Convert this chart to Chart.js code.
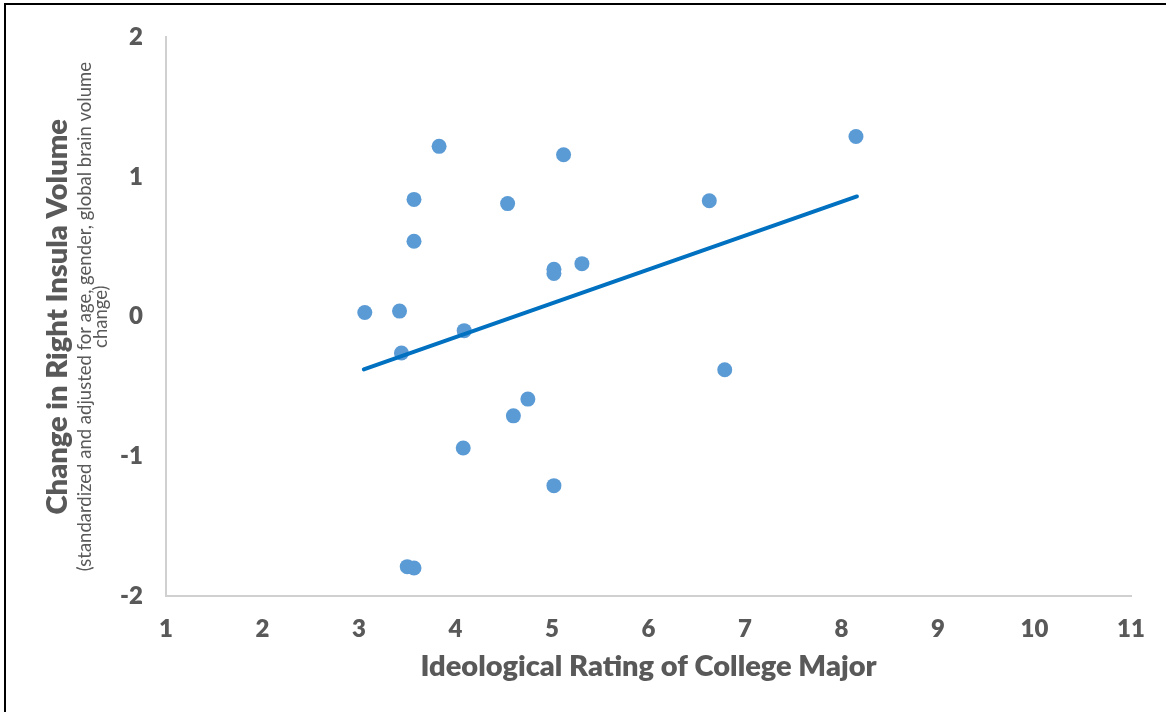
<!DOCTYPE html>
<html>
<head>
<meta charset="utf-8">
<script src="https://cdn.jsdelivr.net/npm/chart.js@4/dist/chart.umd.min.js"></script>
<style>
  html, body { margin: 0; padding: 0; background: #ffffff; overflow: hidden; }
  #wrap { position: relative; width: 1166px; height: 712px; }
  #frame { position: absolute; left: 4px; top: 3px; width: 1200px; height: 800px; border: 2px solid #000; box-sizing: border-box; pointer-events: none; }
  canvas { position: absolute; left: 0; top: 0; }
</style>
</head>
<body>
<div id="wrap">
  <canvas id="c" width="1166" height="712"></canvas>
  <div id="frame"></div>
</div>
<script>
// Ideological rating of college major (x) vs change in right insula volume (y)
const majorRating = [3.06, 3.42, 3.44, 3.57, 3.57, 3.83, 4.09, 4.08, 4.54, 4.60, 4.75, 5.02, 5.02, 5.02, 5.12, 5.31, 6.63, 6.79, 8.15, 3.50, 3.57];
const insulaChange = [0.03, 0.04, -0.26, 0.84, 0.54, 1.22, -0.10, -0.94, 0.81, -0.71, -0.59, 0.34, 0.31, -1.21, 1.16, 0.38, 0.83, -0.38, 1.29, -1.79, -1.80];

// Linear trendline end points
const trendX = [3.05, 8.16];
const trendY = [-0.377, 0.861];

// Axis ranges / ticks
const xTicks = [1, 2, 3, 4, 5, 6, 7, 8, 9, 10, 11];
const yTicks = [-2, -1, 0, 1, 2];

const xTitle = 'Ideological Rating of College Major';
const yTitle = 'Change in Right Insula Volume';
const ySubtitle = ['(standardized and adjusted for age, gender, global brain volume', 'change)'];

const TEXT = '#595959';
const FONT = 'Lato, "Noto Sans", sans-serif';

const scatterData = majorRating.map((x, i) => ({ x: x, y: insulaChange[i] }));
const trendData = trendX.map((x, i) => ({ x: x, y: trendY[i] }));

const subtitlePlugin = {
  id: 'ySubtitle',
  afterDraw(chart) {
    const ctx = chart.ctx;
    const area = chart.chartArea;
    const cy = (area.top + area.bottom) / 2;
    ctx.save();
    ctx.translate(0, cy);
    ctx.rotate(-Math.PI / 2);
    ctx.fillStyle = TEXT;
    ctx.font = '400 18.5px ' + FONT;
    ctx.textAlign = 'center';
    ctx.textBaseline = 'alphabetic';
    ctx.fillText(ySubtitle[0], 0, 91);
    ctx.fillText(ySubtitle[1], 0, 107);
    ctx.restore();
  }
};

new Chart(document.getElementById('c'), {
  type: 'scatter',
  data: {
    datasets: [
      {
        type: 'line',
        label: 'Trend',
        data: trendData,
        borderColor: '#0070C0',
        borderWidth: 4,
        borderCapStyle: 'round',
        pointRadius: 0,
        fill: false,
        tension: 0,
        order: 0
      },
      {
        label: 'Majors',
        data: scatterData,
        backgroundColor: '#5B9BD5',
        borderWidth: 0,
        pointRadius: 7.5,
        pointHoverRadius: 7.5,
        order: 1
      }
    ]
  },
  options: {
    responsive: false,
    animation: false,
    devicePixelRatio: 1,
    layout: { padding: { left: 0, top: 34, right: 35, bottom: 0 } },
    plugins: {
      legend: { display: false },
      tooltip: { enabled: false },
      title: { display: false }
    },
    scales: {
      x: {
        type: 'linear',
        min: xTicks[0],
        max: xTicks[xTicks.length - 1],
        afterBuildTicks(scale) { scale.ticks = xTicks.map(v => ({ value: v })); },
        afterFit(scale) { scale.height = 116; },
        grid: { display: false, drawTicks: false },
        border: { display: true, color: '#D0D0D0', width: 2 },
        ticks: {
          color: TEXT,
          font: { family: FONT, size: 24, weight: '800' },
          padding: 19,
          maxRotation: 0,
          autoSkip: false
        },
        title: {
          display: true,
          text: xTitle,
          color: TEXT,
          font: { family: FONT, size: 29, weight: '800' },
          padding: { top: 0, bottom: 27.5 }
        }
      },
      y: {
        type: 'linear',
        min: yTicks[0],
        max: yTicks[yTicks.length - 1],
        afterBuildTicks(scale) { scale.ticks = yTicks.map(v => ({ value: v })); },
        afterFit(scale) { scale.width = 166; },
        grid: { display: false, drawTicks: false },
        border: { display: true, color: '#D0D0D0', width: 2 },
        ticks: {
          color: TEXT,
          font: { family: FONT, size: 24, weight: '800' },
          padding: 23,
          autoSkip: false
        },
        title: {
          display: true,
          text: yTitle,
          color: TEXT,
          font: { family: FONT, size: 29, weight: '800' },
          padding: { top: 40, bottom: 0 }
        }
      }
    }
  },
  plugins: [subtitlePlugin]
});
</script>
</body>
</html>
